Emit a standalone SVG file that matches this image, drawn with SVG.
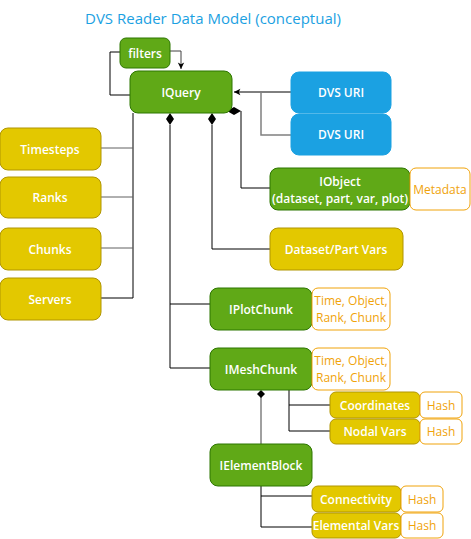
<svg xmlns="http://www.w3.org/2000/svg" width="471" height="539" viewBox="0 0 471 539">
<style>
text{font-family:"Open Sans","Liberation Sans",sans-serif;font-size:12px;text-anchor:middle;dominant-baseline:central}
.g rect{fill:#60a917;stroke:#2d7600}
.y rect{fill:#e3c800;stroke:#b09500}
.b rect{fill:#1ba1e2;stroke:#1ba1e2}
.o rect{fill:#fff;stroke:#f0a30a}
.g text,.y text,.b text{fill:#fff;font-weight:600}
.o text{fill:#f0a30a}
.c path{fill:none;stroke:#000;stroke-width:1}
.c path.gr{stroke:#808080;stroke-width:1.5}
.d{fill:#000}
</style>
<defs>
<marker id="ar" viewBox="0 0 10 10" refX="9" refY="5" markerWidth="8" markerHeight="8" orient="auto"><path d="M1,1 L9,5 L1,9 L3,5 z" fill="#000"/></marker>
</defs>
<text x="213" y="18" style="fill:#1ba1e2;font-size:15px">DVS Reader Data Model (conceptual)</text>
<g class="c" id="connectors">
<path d="M120,52 H110 V95 H130"/>
<path class="gr" d="M170,51 H181 V69" marker-end="url(#ar)" style="stroke:#404040;stroke-width:1"/>
<path d="M291,92 H234" marker-end="url(#ar)"/>
<path class="gr" d="M261,92 V135 H291"/>
<path d="M241,111 V188 H270"/>
<path d="M212,125 V249 H270"/>
<path d="M170,125 V368 H210 M170,304 H210"/>
<path d="M133,113 V298 H101"/>
<path class="gr" d="M101,148 H133 M101,197 H133 M101,248 H133" style="stroke:#606060;stroke-width:1"/>
<path d="M289,390 V431 H330 M289,405 H330"/>
<path class="gr" d="M261,397 V444"/>
<path d="M261,486 V527 H312 M261,496 H312"/>
<polygon class="d" points="234,111 241,107 248,111 241,115" transform="translate(-7,0)"/>
<polygon class="d" points="170,113 174,119 170,125 166,119"/>
<polygon class="d" points="212,113 216,119 212,125 208,119"/>
<polygon class="d" points="261,390 265,394 261,398 257,394"/>
</g>
<g id="filters" class="g"><rect x="120" y="38" width="50" height="30" rx="6"/><text x="145" y="53">filters</text></g>
<g id="iquery" class="g"><rect x="130" y="71" width="102" height="42" rx="8"/><text x="181" y="92">IQuery</text></g>
<g id="dvsuri1" class="b"><rect x="291" y="72" width="100" height="41" rx="8"/><text x="341" y="92">DVS URI</text></g>
<g id="dvsuri2" class="b"><rect x="291" y="114" width="100" height="41" rx="8"/><text x="341" y="134">DVS URI</text></g>
<g id="timesteps" class="y"><rect x="0" y="128" width="101" height="42" rx="8"/><text x="50" y="149">Timesteps</text></g>
<g id="ranks" class="y"><rect x="0" y="177" width="101" height="41" rx="8"/><text x="50" y="197">Ranks</text></g>
<g id="chunks" class="y"><rect x="0" y="228" width="101" height="42" rx="8"/><text x="50" y="249">Chunks</text></g>
<g id="servers" class="y"><rect x="0" y="278" width="101" height="42" rx="8"/><text x="50" y="299">Servers</text></g>
<g id="iobject" class="g"><rect x="270" y="168" width="140" height="42" rx="8"/><text x="340" y="181">IObject</text><text x="340" y="198">(dataset, part, var, plot)</text></g>
<g id="metadata" class="o"><rect x="410" y="168" width="60" height="42" rx="6"/><text x="440" y="189">Metadata</text></g>
<g id="datasetpartvars" class="y"><rect x="270" y="228" width="133" height="42" rx="8"/><text x="336" y="249">Dataset/Part Vars</text></g>
<g id="iplotchunk" class="g"><rect x="210" y="288" width="102" height="42" rx="8"/><text x="261" y="309">IPlotChunk</text></g>
<g id="plotkeys" class="o"><rect x="312" y="288" width="78" height="42" rx="6"/><text x="351" y="300">Time, Object,</text><text x="351" y="317">Rank, Chunk</text></g>
<g id="imeshchunk" class="g"><rect x="210" y="348" width="102" height="42" rx="8"/><text x="261" y="369">IMeshChunk</text></g>
<g id="meshkeys" class="o"><rect x="312" y="348" width="78" height="42" rx="6"/><text x="351" y="360">Time, Object,</text><text x="351" y="377">Rank, Chunk</text></g>
<g id="coordinates" class="y"><rect x="330" y="392" width="90" height="26" rx="6"/><text x="375" y="405">Coordinates</text></g>
<g id="hash1" class="o"><rect x="420" y="392" width="42" height="26" rx="5"/><text x="441" y="405">Hash</text></g>
<g id="nodalvars" class="y"><rect x="330" y="419" width="90" height="25" rx="6"/><text x="375" y="431">Nodal Vars</text></g>
<g id="hash2" class="o"><rect x="420" y="419" width="42" height="25" rx="5"/><text x="441" y="431">Hash</text></g>
<g id="ielementblock" class="g"><rect x="210" y="444" width="102" height="42" rx="8"/><text x="261" y="465">IElementBlock</text></g>
<g id="connectivity" class="y"><rect x="312" y="486" width="89" height="26" rx="6"/><text x="356" y="499">Connectivity</text></g>
<g id="hash3" class="o"><rect x="401" y="486" width="42" height="26" rx="5"/><text x="422" y="499">Hash</text></g>
<g id="elementalvars" class="y"><rect x="312" y="513" width="89" height="25" rx="6"/><text x="356" y="525">Elemental Vars</text></g>
<g id="hash4" class="o"><rect x="401" y="513" width="42" height="25" rx="5"/><text x="422" y="525">Hash</text></g>
</svg>
